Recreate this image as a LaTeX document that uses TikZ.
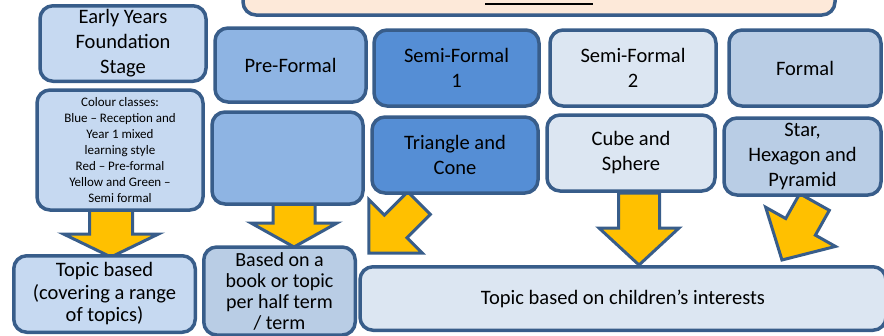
\documentclass[tikz,border=0pt]{standalone}
\usepackage{fontspec}
\setmainfont{Carlito}
\usetikzlibrary{backgrounds}
\definecolor{edgeblue}{RGB}{56,93,138}
\definecolor{paleblue}{RGB}{198,217,241}
\definecolor{midblue}{RGB}{142,180,227}
\definecolor{deepblue}{RGB}{85,142,213}
\definecolor{iceblue}{RGB}{220,230,242}
\definecolor{greyblue}{RGB}{185,205,229}
\definecolor{peach}{RGB}{253,233,217}
\definecolor{amber}{RGB}{255,192,0}

% block arrow: base, angle, length, shaft width, head width, head length
\newcommand{\blockarrow}[6]{%
  \begin{scope}[shift={#1}, rotate=#2]
    \draw[bigarrow] (0,-#4/2) -- ({#3-#6},-#4/2) -- ({#3-#6},-#5/2) -- (#3,0)
      -- ({#3-#6},#5/2) -- ({#3-#6},#4/2) -- (0,#4/2) -- cycle;
  \end{scope}}

\begin{document}
\begin{tikzpicture}[x=1pt, y=-1pt,
    box/.style={rectangle, rounded corners=13pt, draw=edgeblue, line width=3.5pt, align=center, inner sep=0pt, text=black, font=\fontsize{20.5}{25}\selectfont},
    lowbox/.style={box, font=\fontsize{20.5}{22.5}\selectfont},
    bigarrow/.style={draw=edgeblue, fill=amber, line width=3pt, line join=miter}
]
\useasboundingbox (0,0) rectangle (884,335);

% Title box (cut off at the top)
\node[box, fill=peach, minimum width=592pt, minimum height=60pt] (title) at (539,-15) {};
\coordinate (ulstart) at (485,4);
\coordinate (ulend) at (593,4);
\draw[line width=1.5pt] (ulstart) -- (ulend);

% Stages
\node[box, fill=paleblue, minimum width=166pt, minimum height=75.5pt] (eyfs) at (123,43.5) {Early Years\\Foundation\\Stage};
\node[box, fill=midblue, minimum width=151pt, minimum height=74pt] (preformal) at (290.5,65) {Pre-Formal};
\node[box, fill=deepblue, minimum width=165pt, minimum height=76pt] (semione) at (456.5,68) {Semi-Formal\\1};
\node[box, fill=iceblue, minimum width=166pt, minimum height=76pt] (semitwo) at (633,68) {Semi-Formal\\2};
\node[box, fill=greyblue, minimum width=152pt, minimum height=76pt] (formal) at (805,68) {Formal};

% Classes
\node[box, fill=paleblue, minimum width=166pt, minimum height=120pt, font=\fontsize{13}{16}\selectfont] (colours) at (120,150) {Colour classes:\\Blue -- Reception and\\Year 1 mixed\\learning style\\Red -- Pre-formal\\Yellow and Green --\\Semi formal};
\node[box, fill=midblue, minimum width=151pt, minimum height=92pt] (blank) at (287.5,158) {};
\node[box, fill=deepblue, minimum width=166pt, minimum height=76pt] (triangle) at (455,155) {Triangle and\\Cone};
\node[box, fill=iceblue, minimum width=168pt, minimum height=76pt] (cube) at (631,153) {Cube and\\Sphere};
\node[box, fill=greyblue, minimum width=157pt, minimum height=77pt] (star) at (802.5,156.5) {Star,\\Hexagon and\\Pyramid};

% Curriculum
\node[lowbox, fill=paleblue, minimum width=181.5pt, minimum height=76.5pt] (topic) at (104.5,294) {Topic based\\(covering a range\\of topics)};
\node[lowbox, fill=greyblue, minimum width=151.5pt, minimum height=88pt, font=\fontsize{20}{21}\selectfont] (book) at (279.5,291) {Based on a\\book or topic\\per half term\\/ term};
\node[lowbox, fill=iceblue, minimum width=526pt, minimum height=63.5pt] (interests) at (623,298.5) {Topic based on children’s interests};

% Arrows
\begin{scope}[on background layer]
\blockarrow{(111,210)}{-90}{47}{43}{95}{23}
\blockarrow{(294,203)}{-90}{44}{42}{86}{24}
\blockarrow{(419,203)}{225}{71}{32}{76}{38}
\blockarrow{(639,193)}{-90}{72}{41}{80}{37}
\blockarrow{(814.5,202)}{240.7}{66.5}{34}{80}{38}
\end{scope}

\end{tikzpicture}
\end{document}
